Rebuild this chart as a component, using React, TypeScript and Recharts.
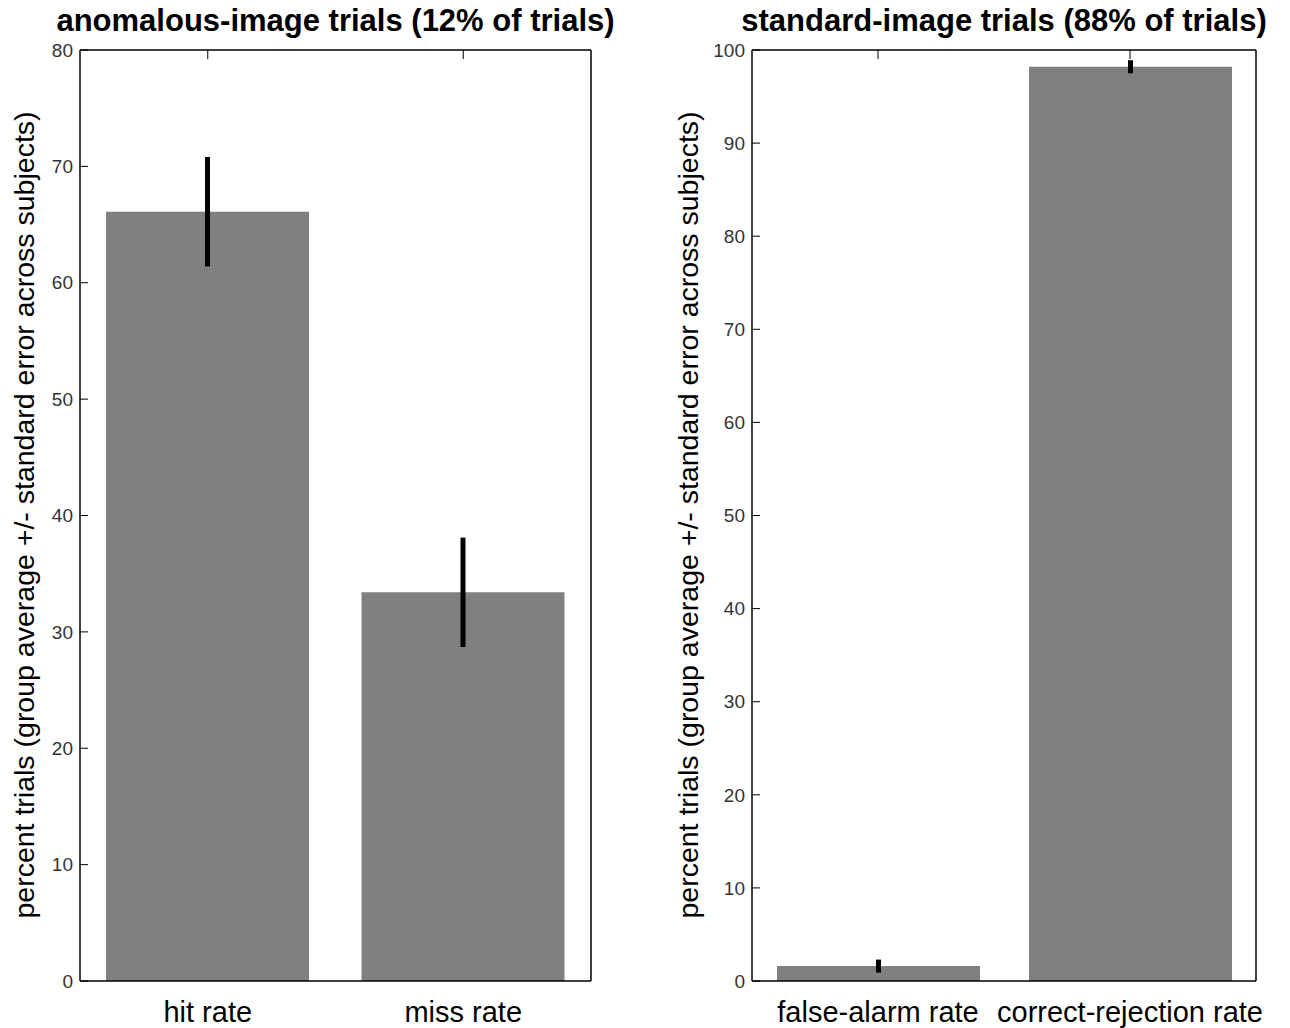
import React from "react";
import { Bar, BarChart, ErrorBar, Label, XAxis, YAxis } from "recharts";

const anomalousLabels = ["hit rate", "miss rate"];
const anomalousMeans = [66.1, 33.4];
const anomalousErrors = [4.7, 4.7];
const anomalousTicks = [0, 10, 20, 30, 40, 50, 60, 70, 80];

const standardLabels = ["false-alarm rate", "correct-rejection rate"];
const standardMeans = [1.6, 98.2];
const standardErrors = [0.7, 0.7];
const standardTicks = [0, 10, 20, 30, 40, 50, 60, 70, 80, 90, 100];

const Y_LABEL = "percent trials (group average +/- standard error across subjects)";
const FONT = "'Liberation Sans', Arial, sans-serif";

function Panel({
  title,
  labels,
  means,
  errors,
  ticks,
  left,
  width,
  yAxisWidth,
  rightMargin,
  labelX,
}: {
  title: string;
  labels: string[];
  means: number[];
  errors: number[];
  ticks: number[];
  left: number;
  width: number;
  yAxisWidth: number;
  rightMargin: number;
  labelX: number;
}) {
  const data = labels.map((name, i) => ({ name, value: means[i], err: errors[i] }));
  const max = ticks[ticks.length - 1];
  const plotLeft = yAxisWidth;
  const plotRight = width - rightMargin - 1;
  return (
    <div style={{ position: "absolute", left, top: 0, width, height: 1028 }}>
      <div
        style={{
          position: "absolute",
          top: 3,
          left: plotLeft - 150,
          width: plotRight - plotLeft + 300,
          textAlign: "center",
          fontFamily: FONT,
          fontWeight: "bold",
          fontSize: 31,
          color: "#000",
          whiteSpace: "nowrap",
        }}
      >
        {title}
      </div>
      <BarChart
        width={width}
        height={1028}
        data={data}
        barCategoryGap={0}
        margin={{ top: 49, right: rightMargin, bottom: 0, left: 0 }}
      >
        <XAxis
          dataKey="name"
          height={47}
          axisLine={{ stroke: "#000", strokeWidth: 1.5 }}
          tickLine={false}
          tickMargin={14}
          tick={{ fontSize: 29, fill: "#000", fontFamily: FONT }}
          interval={0}
        />
        <XAxis
          xAxisId="top"
          orientation="top"
          dataKey="name"
          height={1}
          axisLine={{ stroke: "#000", strokeWidth: 1.5 }}
          tickLine={{ stroke: "#000" }}
          tickSize={-9}
          tickFormatter={() => ""}
          interval={0}
        />
        <YAxis
          width={yAxisWidth}
          domain={[0, max]}
          ticks={ticks}
          interval={0}
          axisLine={{ stroke: "#000", strokeWidth: 1.5 }}
          tickLine={{ stroke: "#000" }}
          tickSize={-8}
          tickMargin={15}
          tick={{ fontSize: 19, fill: "#333", fontFamily: FONT }}
        >
          <Label
            content={() => (
              <text
                x={labelX}
                y={515}
                transform={`rotate(-90 ${labelX} 515)`}
                textAnchor="middle"
                fontFamily={FONT}
                fontSize={28.5}
                fill="#000"
              >
                {Y_LABEL}
              </text>
            )}
          />
        </YAxis>
        <YAxis
          yAxisId="right"
          orientation="right"
          width={1}
          domain={[0, max]}
          ticks={ticks}
          interval={0}
          axisLine={{ stroke: "#000", strokeWidth: 1.5 }}
          tickLine={{ stroke: "#000" }}
          tickSize={-8}
          tickFormatter={() => ""}
        />
        <Bar dataKey="value" fill="#808080" barSize={203} isAnimationActive={false}>
          <ErrorBar dataKey="err" width={0} strokeWidth={5} stroke="#000" direction="y" />
        </Bar>
      </BarChart>
    </div>
  );
}

export default function App() {
  return (
    <div style={{ position: "absolute", left: 0, top: 0, width: 1290, height: 1028, background: "#fff" }}>
      <Panel
        title="anomalous-image trials (12% of trials)"
        labels={anomalousLabels}
        means={anomalousMeans}
        errors={anomalousErrors}
        ticks={anomalousTicks}
        left={0}
        width={640}
        yAxisWidth={80}
        rightMargin={48}
        labelX={34}
      />
      <Panel
        title="standard-image trials (88% of trials)"
        labels={standardLabels}
        means={standardMeans}
        errors={standardErrors}
        ticks={standardTicks}
        left={660}
        width={630}
        yAxisWidth={92}
        rightMargin={33}
        labelX={38}
      />
    </div>
  );
}
